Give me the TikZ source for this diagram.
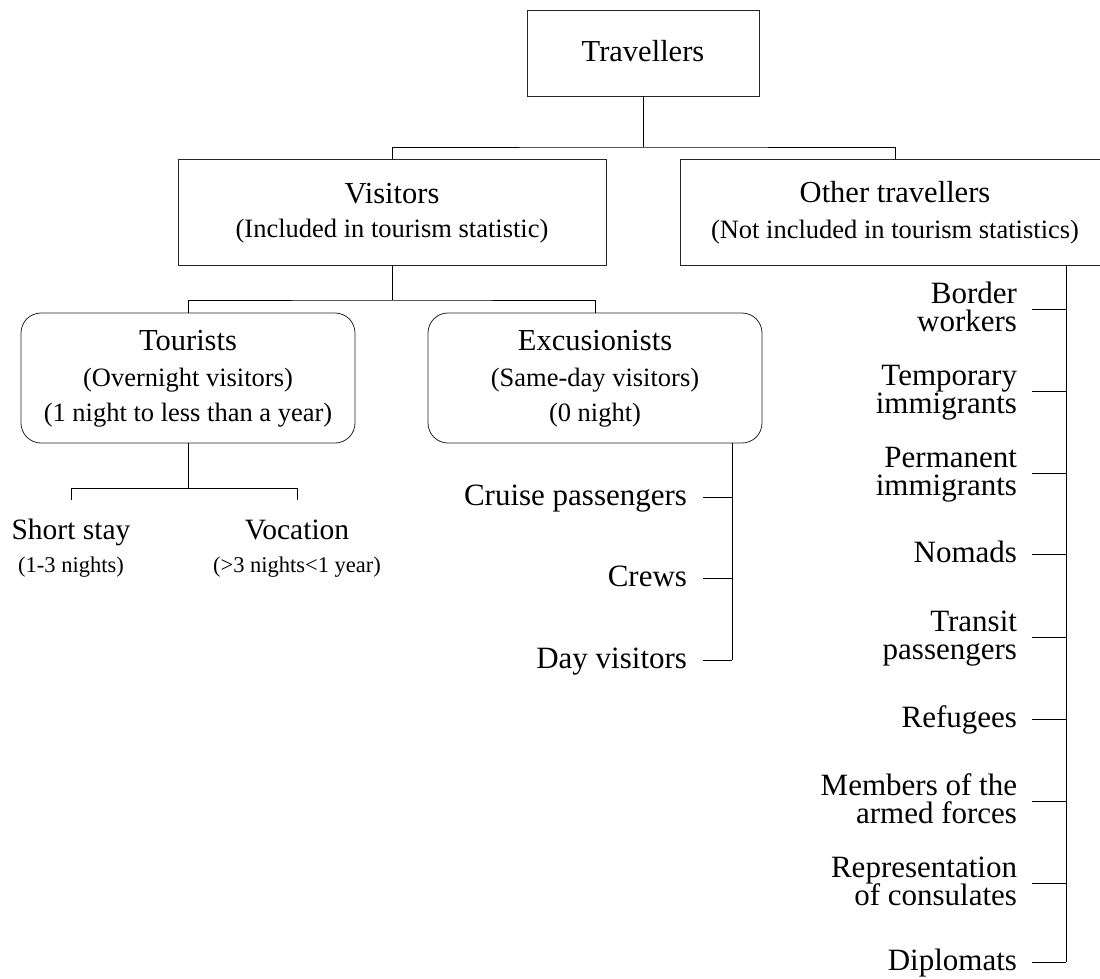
\documentclass[tikz,border=0pt]{standalone}
\usepackage{fontspec}
\setmainfont{Liberation Serif}
\newcommand\tsz{\fontsize{30.5}{35}\selectfont}
\newcommand\lfont{\fontsize{31}{28}\selectfont}
\newcommand\xsz{\fontsize{22.5}{33}\selectfont}
\newcommand\TitleLn[1]{\smash{#1}\rule[-4pt]{0pt}{25pt}}
\newcommand\SubLn[1]{\smash{#1}\rule[-5pt]{0pt}{23pt}}
\newcommand\XsLn[1]{\smash{#1}\rule[-5pt]{0pt}{21pt}}
\begin{document}
\begin{tikzpicture}[x=1pt,y=-1pt,
  box/.style={draw=black!85, line width=0.8pt, inner sep=0pt, align=center},
  rbox/.style={box, rounded corners=20pt},
  lbl/.style={anchor=east, inner sep=0pt, outer xsep=15pt, align=right, font=\lfont},
  conn/.style={line width=0.9pt, black}]
\path[use as bounding box] (0,0) rectangle (1100,978);
\fill[white] (0,0) rectangle (1100,978);
\clip (0,0) rectangle (1100,978);

% boxes
\node[box, minimum width=232pt, minimum height=86pt, font=\tsz] (trav) at (643,53) {\TitleLn{Travellers}};
\node[box, minimum width=428pt, minimum height=106pt, font=\fontsize{26.5}{34}\selectfont] (vis) at (392,212)
  {{\tsz\TitleLn{Visitors}}\\\SubLn{(Included in tourism statistic)}};
\node[box, minimum width=430pt, minimum height=106pt, font=\fontsize{26.5}{36}\selectfont] (oth) at (895,212)
  {{\tsz\TitleLn{Other travellers}}\\\SubLn{(Not included in tourism statistics)}};
\node[rbox, minimum width=334pt, minimum height=130pt, font=\fontsize{26.5}{35.5}\selectfont] (tour) at (188,378)
  {{\tsz\TitleLn{Tourists}}\\\SubLn{(Overnight visitors)}\\\SubLn{(1 night to less than a year)}};
\node[rbox, minimum width=334pt, minimum height=130pt, font=\fontsize{26.5}{35.5}\selectfont] (exc) at (595,378)
  {{\tsz\TitleLn{Excusionists}}\\\SubLn{(Same-day visitors)}\\\SubLn{(0 night)}};

% tourists children
\node[inner sep=0pt, align=center, font=\xsz] (short) at (71,547.5)
  {{\fontsize{29.5}{33}\selectfont\TitleLn{Short stay}}\\\XsLn{(1-3 nights)}};
\node[inner sep=0pt, align=center, font=\xsz] (voc) at (297,547.5)
  {{\fontsize{29.5}{33}\selectfont\TitleLn{Vocation}}\\\XsLn{(>3 nights<1 year)}};

% tree connectors
\coordinate (j0) at (643,147);
\draw[conn] (trav.south) -- (j0);
\draw[conn] (vis.north) |- (j0) -| (oth.north);
\coordinate (j1) at (392,300);
\draw[conn] (vis.south) -- (j1);
\draw[conn] (tour.north) |- (j1) -| (exc.north);
\coordinate (j2) at (188,488);
\draw[conn] (tour.south) -- (j2);
\draw[conn] ([yshift=18pt]short.north) |- (j2) -| ([yshift=18pt]voc.north);

% excursionists list
\coordinate (es) at (732,660);
\draw[conn] (exc.south -| es) -- (es);
\node[lbl, outer xsep=16pt] (cruise) at (703,497) {\TitleLn{Cruise passengers}};
\node[lbl, outer xsep=16pt] (crews) at (703,578) {\TitleLn{Crews}};
\node[lbl, outer xsep=16pt] (dayv) at (703,660) {\TitleLn{Day visitors}};
\foreach \n in {cruise,crews,dayv}{\draw[conn] (\n.east) -- (\n.east -| es);}

% other travellers list
\coordinate (os) at (1066,962);
\draw[conn] (oth.south -| os) -- (os);
\node[lbl] (border) at (1032,309) {\TitleLn{Border}\\\TitleLn{workers}};
\node[lbl] (temp) at (1032,391) {\TitleLn{Temporary}\\\TitleLn{immigrants}};
\node[lbl] (perm) at (1032,473) {\TitleLn{Permanent}\\\TitleLn{immigrants}};
\node[lbl] (nomads) at (1032,554) {\TitleLn{Nomads}};
\node[lbl] (transit) at (1032,637) {\TitleLn{Transit}\\\TitleLn{passengers}};
\node[lbl] (refugees) at (1032,719) {\TitleLn{Refugees}};
\node[lbl] (members) at (1032,801) {\TitleLn{Members of the}\\\TitleLn{armed forces}};
\node[lbl] (repr) at (1032,883) {\TitleLn{Representation}\\\TitleLn{of consulates}};
\node[lbl] (diplo) at (1032,962) {\TitleLn{Diplomats}};
\foreach \n in {border,temp,perm,nomads,transit,refugees,members,repr,diplo}{\draw[conn] (\n.east) -- (\n.east -| os);}
\end{tikzpicture}
\end{document}
